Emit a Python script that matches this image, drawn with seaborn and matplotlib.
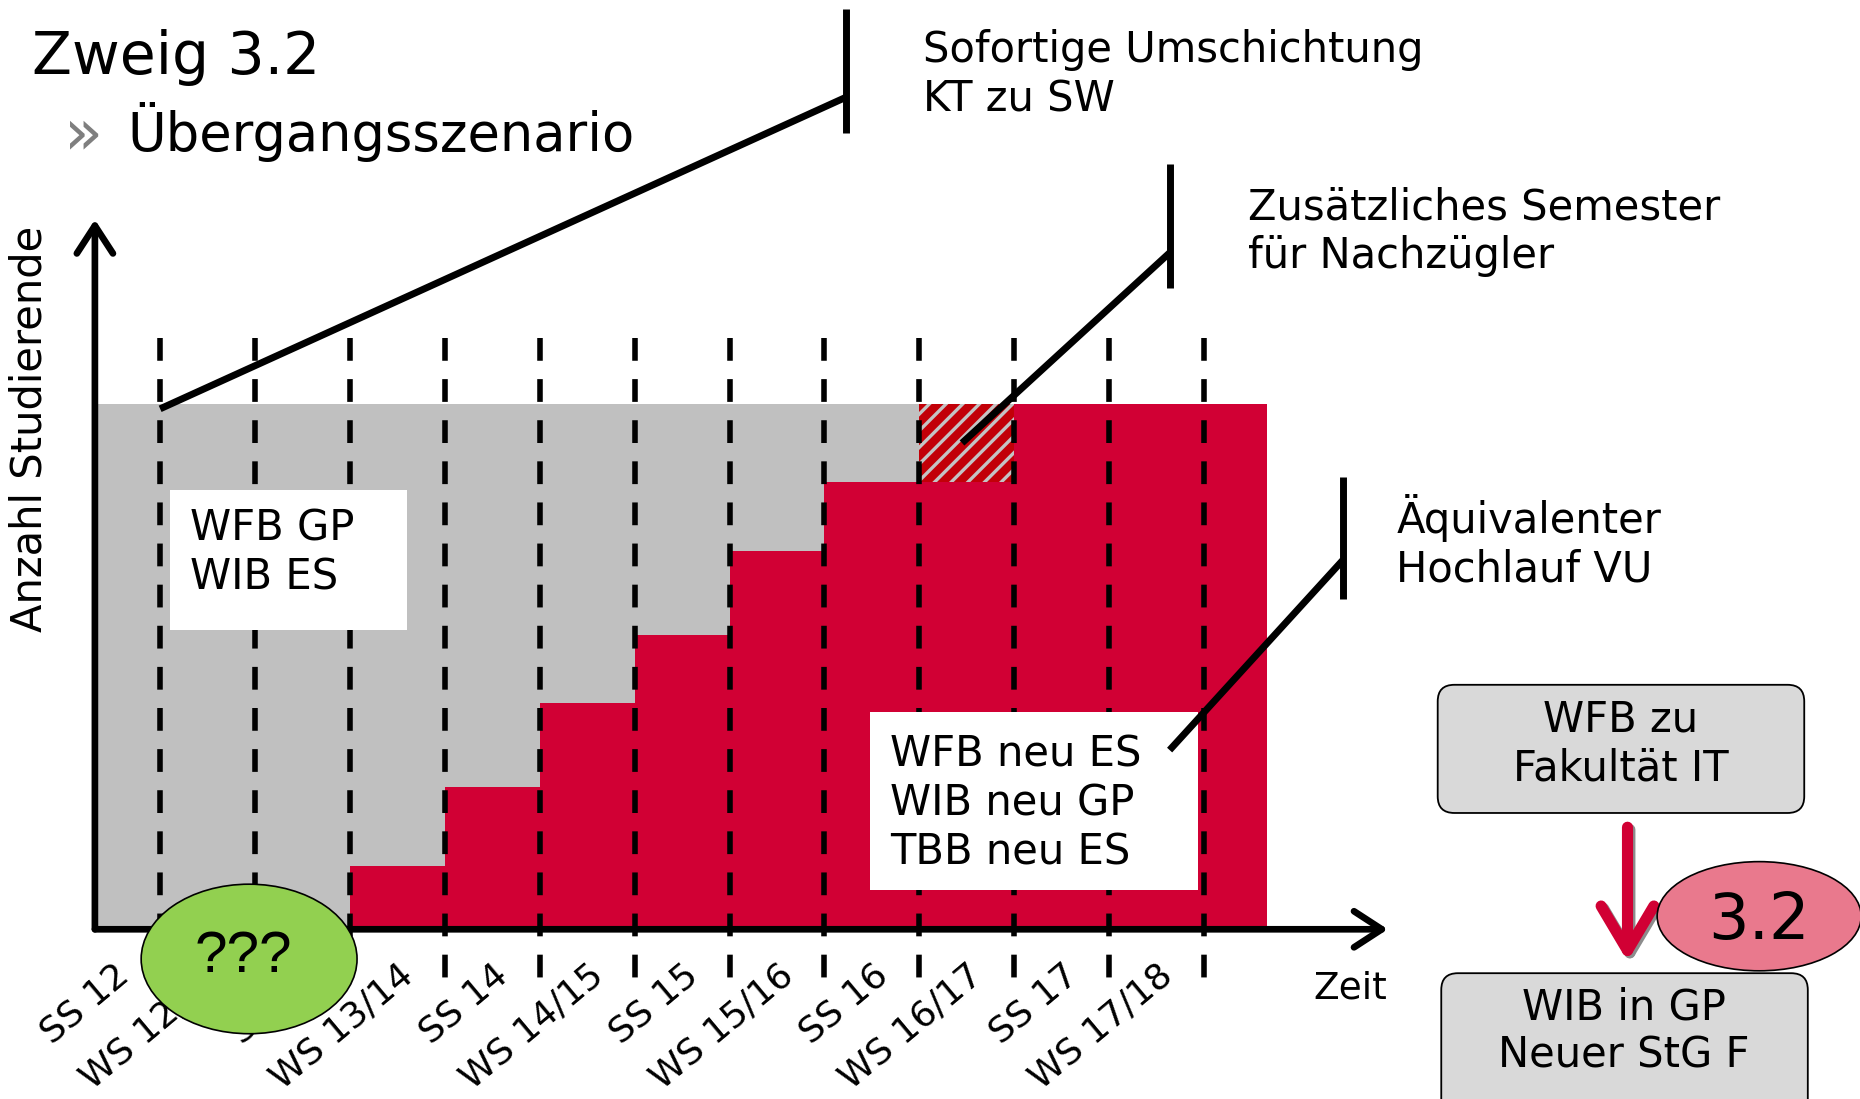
import numpy as np
import matplotlib
matplotlib.use("Agg")
import matplotlib.pyplot as plt
from matplotlib.patches import Rectangle, Ellipse, FancyBboxPatch
import seaborn as sns

# ------------------------------------------------------------------
# data: share of students (in %) per semester
# ------------------------------------------------------------------
semester = ["SS 12", "WS 12/13", "SS 13", "WS 13/14", "SS 14", "WS 14/15",
            "SS 15", "WS 15/16", "SS 16", "WS 16/17", "SS 17", "WS 17/18"]
# students in the new programmes (red)
neu = [0, 0, 12, 27, 43, 56, 72, 85, 85, 100, 100, 100]
# students left in the old programmes (grey)
alt = [100, 100, 88, 73, 57, 44, 28, 15, 15, 0, 0, 0]
# extra semester for late students (hatched)
nachzuegler = 8

ROT = "#d10034"
GRAU = "#c0c0c0"

sns.set_theme(style="white")
plt.rcParams["font.family"] = ["DejaVu Sans"]
plt.rcParams["text.color"] = "black"
plt.rcParams["hatch.linewidth"] = 2.4

fig = plt.figure(figsize=(18.6, 10.99), dpi=100)

# main chart area (positions taken from the 1568x926 preview)
W, H = 1568, 926
ax = fig.add_axes([80 / W, (H - 783) / H, (1170 - 80) / W, (783 - 185) / H])
x_start, x_end = -0.6875, 11.66
ax.set_xlim(x_start, 12.9375)
ax.set_ylim(0, 135)
ax.set_xticks([])
ax.set_yticks([])
sns.despine(ax=ax, left=True, bottom=True)

n = len(semester)
edges = np.r_[x_start, np.arange(n), x_end]
rot_top = np.r_[0, neu, neu[-1]]
grau_top = np.array([nn + a if i != nachzuegler else nn
                     for i, (nn, a) in enumerate(zip(neu, alt))])
grau_top = np.r_[100, grau_top, grau_top[-1]]

ax.fill_between(edges, rot_top, grau_top, step="post", color=GRAU, lw=0, zorder=1)
ax.fill_between(edges, 0, rot_top, step="post", color=ROT, lw=0, zorder=1)
ax.bar(nachzuegler, alt[nachzuegler], bottom=neu[nachzuegler], width=1,
       align="edge", facecolor="#c20008", edgecolor="#c4c4c4", hatch="//",
       lw=0, zorder=1)

# dashed semester lines (drawn top to bottom so the dash phase starts at top)
for k in range(n):
    ax.plot([k, k], [112.4, -10.8], color="black", lw=4,
            linestyle=(0, (4.1, 3.3)), clip_on=False, zorder=2)

# semester labels
for k, lab in enumerate(semester):
    ax.text(k - 0.38, -7.8, lab, rotation=40, rotation_mode="anchor",
            ha="right", va="center", fontsize=26, clip_on=False)

# axes as arrows
arrow_kw = dict(arrowstyle="->,head_length=20,head_width=13", lw=4.8,
                color="black", mutation_scale=1, shrinkA=0, shrinkB=0,
                capstyle="round", joinstyle="round")
ax.annotate("", xy=(12.9375, 0), xytext=(x_start, 0), arrowprops=arrow_kw,
            annotation_clip=False, zorder=4)
ax.annotate("", xy=(x_start, 135), xytext=(x_start, 0), arrowprops=arrow_kw,
            annotation_clip=False, zorder=4)

# ------------------------------------------------------------------
# overlay for texts, boxes and callouts (preview pixel coordinates)
# ------------------------------------------------------------------
ov = fig.add_axes([0, 0, 1, 1], zorder=5)
ov.set_xlim(0, W)
ov.set_ylim(H, 0)
ov.axis("off")
ov.patch.set_alpha(0)


def to_ov(x, y):
    p = ax.transData.transform((x, y))
    return ov.transData.inverted().transform(p)


ov.text(27, 62, "Zweig 3.2", fontsize=42, va="baseline")
ov.text(54, 114, "\u00bb", fontsize=46, color="#7f7f7f", va="center")
ov.text(107, 127, "Übergangsszenario", fontsize=38, va="baseline")
ov.text(25, 361, "Anzahl Studierende", rotation=90, ha="center", va="center",
        fontsize=30)
ov.text(1107, 833, "Zeit", fontsize=27, va="center")

# white label boxes
ov.add_patch(Rectangle((143, 413), 200, 118, fc="white", ec="none", zorder=1))
ov.text(160, 466, "WFB GP\nWIB ES", fontsize=30, va="center", linespacing=1.2)
ov.add_patch(Rectangle((733, 600), 277, 150, fc="white", ec="none", zorder=1))
ov.text(750, 677, "WFB neu ES\nWIB neu GP\nTBB neu ES", fontsize=30,
        va="center", linespacing=1.2)

# callouts
line_kw = dict(color="black", lw=5, solid_capstyle="butt", zorder=3)
x0, y0 = to_ov(0, 99)
ov.plot([x0, 713], [y0, 82], **line_kw)
ov.plot([713, 713], [8, 112], **line_kw)
ov.text(778, 63, "Sofortige Umschichtung\nKT zu SW", fontsize=30,
        va="center", linespacing=1.2)

x0, y0 = to_ov(nachzuegler + 0.45, (neu[nachzuegler] + 100) / 2)
ov.plot([x0, 986], [y0, 213], **line_kw)
ov.plot([986, 986], [138, 243], **line_kw)
ov.text(1052, 195, "Zusätzliches Semester\nfür Nachzügler", fontsize=30,
        va="center", linespacing=1.2)

ov.plot([986, 1132], [632, 472], **line_kw)
ov.plot([1132, 1132], [402, 505], **line_kw)
ov.text(1177, 457, "Äquivalenter\nHochlauf VU", fontsize=30,
        va="center", linespacing=1.2)

# green question bubble
ov.add_patch(Ellipse((210, 808), 182, 126, fc="#92d050", ec="black", lw=1.2,
                     zorder=4))
ov.text(205, 806, "???", fontsize=42, family="Liberation Sans", ha="center",
        va="center", zorder=5)

# right side: org boxes
box_kw = dict(boxstyle="round,pad=0,rounding_size=14", fc="#d9d9d9",
              ec="black", lw=1.3, zorder=2)
ov.add_patch(FancyBboxPatch((1212, 577), 309, 108, **box_kw))
ov.text(1366, 627, "WFB zu\nFakultät IT", fontsize=30, ha="center",
        va="center", linespacing=1.2, zorder=3)
ov.add_patch(FancyBboxPatch((1215, 820), 309, 130, **box_kw))
ov.text(1369, 869, "WIB in GP\nNeuer StG F", fontsize=30, ha="center",
        va="center", linespacing=1.2, zorder=3)

red_arrow = dict(arrowstyle="->,head_length=32,head_width=19", lw=8,
                 mutation_scale=1, shrinkA=0, shrinkB=0,
                 capstyle="round", joinstyle="round")
ov.annotate("", xy=(1374, 812), xytext=(1374, 699),
            arrowprops=dict(color="#8c8c8c", **red_arrow), zorder=2)
ov.annotate("", xy=(1372, 810), xytext=(1372, 697),
            arrowprops=dict(color=ROT, **red_arrow), zorder=3)

ov.add_patch(Ellipse((1483, 772), 172, 92, fc="#e9798d", ec="black", lw=1.2,
                     zorder=4))
ov.text(1483, 776, "3.2", fontsize=46, ha="center", va="center", zorder=5)

fig.savefig("out.png", dpi=100)
